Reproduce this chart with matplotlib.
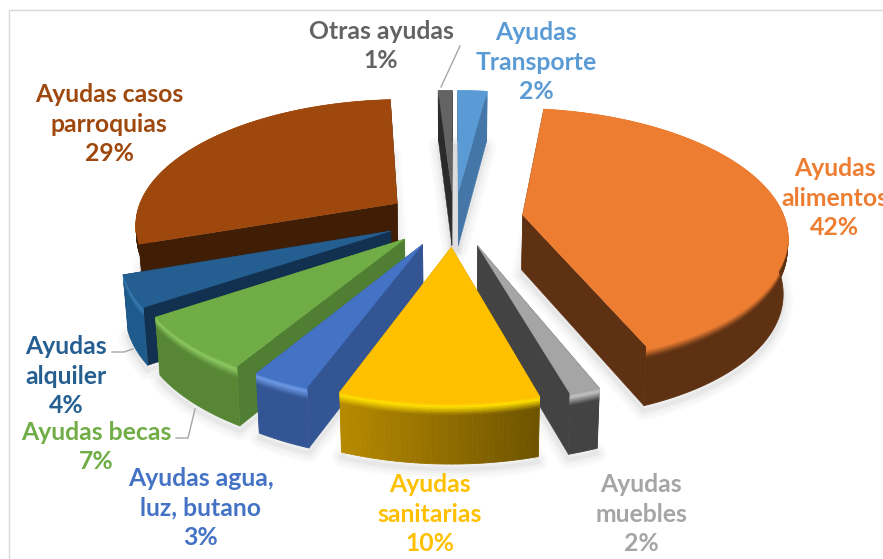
import numpy as np
import matplotlib
matplotlib.use("Agg")
import matplotlib.pyplot as plt
from matplotlib.collections import PolyCollection
from matplotlib.colors import to_rgb

categories = ["Ayudas\nTransporte", "Ayudas\nalimentos", "Ayudas\nmuebles", "Ayudas\nsanitarias",
              "Ayudas agua,\nluz, butano", "Ayudas becas", "Ayudas\nalquiler", "Ayudas casos\nparroquias", "Otras ayudas"]
values = [2.1, 41.8, 1.6, 10.2, 3.0, 7.0, 4.0, 29.3, 1.0]

top_colors = ["#5B9BD5", "#ED7D31", "#A5A5A5", "#FFC000", "#4472C4", "#70AD47", "#255E91", "#9E480E", "#636363"]
cut_colors = ["#4477A8", "#5F3113", "#434343", "#B88B00", "#335593", "#507E32", "#123150", "#401E05", "#2B2B2B"]
wall_left = ["#4477A8", "#5F3113", "#434343", "#B88B00", "#335593", "#578735", "#1F5A8C", "#401E05", "#2B2B2B"]
wall_right = ["#4477A8", "#5F3113", "#434343", "#6F5400", "#335593", "#578735", "#1F5A8C", "#401E05", "#2B2B2B"]
hi_colors = ["#5B9BD5", "#ED7D31", "#C4C4C4", "#FFE000", "#6E9BE8", "#8CC860", "#3A7DB5", "#C2600F", "#636363"]
# painter's order, far to near
order = [8, 0, 7, 1, 6, 5, 2, 4, 3]

CX, CY, A, B, P, EXPLX, EXPLY, H = 454.0, 218.5, 262.0, 123.5, 0.149, 0.265, 0.225, 55.0


def project(X, Y, z=0.0):
    w = 1 + P * Y
    x = CX + A * X / w
    y = CY - B * Y / w
    if np.ndim(z) or z:
        y = y + z * H / (1 + 0.5 * P * Y)
        x = CX + (x - CX) * (1 - 0.015 * z)
    return x, y


def mix(c1, c2, t):
    a, b = np.array(to_rgb(c1)), np.array(to_rgb(c2))
    return tuple(a + (b - a) * t)


def band_color(top, hi, wall, z):
    if z < 0.06:
        return mix(top, hi, z / 0.06)
    if z < 0.2:
        return mix(hi, wall, (z - 0.06) / 0.14)
    return tuple(to_rgb(wall))


fig = plt.figure(figsize=(8.83, 5.59), dpi=100)
ax = fig.add_axes([0, 0, 1, 1])
ax.set_xlim(0, 883)
ax.set_ylim(559, 0)
ax.axis("off")

# chart frame
ax.plot([883, 9, 9], [9.5, 9.5, 559], color="#D9D9D9", lw=1.0, zorder=0)

total = sum(values)
edges = np.cumsum([0] + values) / total * 2 * np.pi
slices = []
for i, v in enumerate(values):
    t0, t1 = edges[i], edges[i + 1]
    mid = (t0 + t1) / 2
    ox, oy = EXPLX * np.sin(mid), EXPLY * np.cos(mid)
    th = np.linspace(t0, t1, max(6, int(v * 4)))
    slices.append((ox, oy, th))

z = 10
# soft shadows
for ox, oy, th in slices:
    xb, yb = project(ox + np.sin(th), oy + np.cos(th), 1.0)
    ax0, ay0 = project(ox, oy, 1.0)
    px = np.r_[ax0, xb]
    py = np.r_[ay0, yb]
    for lw, al in [(14, 0.018), (10, 0.02), (6, 0.025), (3, 0.03)]:
        ax.fill(px, py + 5, facecolor="none", edgecolor=(0, 0, 0, al), lw=lw, zorder=z, joinstyle="round")

for i in order:
    ox, oy, th = slices[i]
    z += 1
    rimX, rimY = ox + np.sin(th), oy + np.cos(th)
    # radial cut faces
    for k in (0, -1):
        a0 = project(ox, oy)
        a1 = project(ox, oy, 1.0)
        r0 = project(rimX[k], rimY[k])
        r1 = project(rimX[k], rimY[k], 1.0)
        ax.fill([a0[0], r0[0], r1[0], a1[0]], [a0[1], r0[1], r1[1], a1[1]],
                facecolor=cut_colors[i], edgecolor=cut_colors[i], lw=0.3, zorder=z)
    # outer wall with rounded rim shading, drawn band by band
    levels = np.r_[np.linspace(0, 0.2, 9), 1.0]
    xs = project(rimX, rimY)[0]
    uniform = wall_left[i] == wall_right[i]
    polys, cols = [], []
    for l0, l1 in zip(levels[:-1], levels[1:]):
        if uniform:
            xu, yu = project(rimX, rimY, l0)
            xd, yd = project(rimX, rimY, l1)
            polys.append(np.c_[np.r_[xu, xd[::-1]], np.r_[yu, yd[::-1]]])
            cols.append(band_color(top_colors[i], hi_colors[i], wall_left[i], (l0 + l1) / 2))
            continue
        for j in range(len(th) - 1):
            t = (xs[j] - xs.min()) / max(xs.max() - xs.min(), 1e-6)
            wall = mix(wall_left[i], wall_right[i], t)
            x0, y0 = project(rimX[j], rimY[j], l0)
            x1, y1 = project(rimX[j + 1], rimY[j + 1], l0)
            x2, y2 = project(rimX[j + 1], rimY[j + 1], l1)
            x3, y3 = project(rimX[j], rimY[j], l1)
            polys.append([(x0, y0), (x1, y1), (x2, y2), (x3, y3)])
            cols.append(band_color(top_colors[i], hi_colors[i], wall, (l0 + l1) / 2))
    coll = PolyCollection(polys, facecolors=cols, edgecolors=cols, linewidths=0.6, zorder=z)
    coll.set_snap(False)
    ax.add_collection(coll)
    # top surface
    xt, yt = project(rimX, rimY)
    a0 = project(ox, oy)
    ax.fill(np.r_[a0[0], xt], np.r_[a0[1], yt], facecolor=top_colors[i], edgecolor=top_colors[i], lw=0.3, zorder=z)

# leader lines
for xs_, ys_ in [([441, 460], [87, 46]), ([112, 124, 133], [352, 352, 349]), ([176, 188, 195], [438, 438, 409])]:
    ax.plot(xs_, ys_, color="#A6A6A6", lw=1.0, zorder=30)

label_pos = [(536, 62), (835, 198), (641, 514), (430, 514), (201, 508), (96, 447), (66, 376), (109, 124), (381, 46)]
for name, v, col, (lx, ly) in zip(categories, values, top_colors, label_pos):
    ax.text(lx, ly, f"{name}\n{round(v)}%", color=col, fontsize=17.8, fontweight="bold", family="Lato",
            ha="center", va="center", linespacing=1.32, zorder=40)

fig.savefig("out.png", dpi=100)
